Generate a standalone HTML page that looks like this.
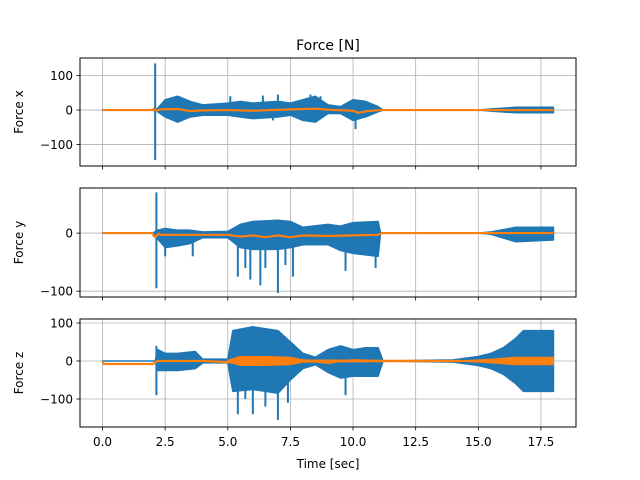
<!DOCTYPE html>
<html><head><meta charset="utf-8"><style>
body{margin:0;background:#fff;}
svg{display:block;font-family:"DejaVu Sans","Liberation Sans",sans-serif;}
</style></head><body>
<svg id="chart" width="640" height="480" viewBox="0 0 640 480">
<rect width="640" height="480" fill="#fff"/>
<text x="328" y="50" font-size="14" text-anchor="middle">Force [N]</text>
<text x="328" y="468" font-size="12" text-anchor="middle">Time [sec]</text>
</svg>
<script>
const xTicks=[0,2.5,5,7.5,10,12.5,15,17.5];
const xTickLabels=["0.0","2.5","5.0","7.5","10.0","12.5","15.0","17.5"];
// Force x envelope
const tX=[0,2.0,2.2,2.5,3.0,3.5,4.0,5.0,5.5,6.0,7.0,7.5,8.0,8.5,9.0,9.5,10.0,10.5,11.0,11.2,15,15.5,16.5,18];
const upX=[0,0,5,30,40,25,15,20,25,20,25,20,30,40,15,10,30,25,10,0,0,3,8,8];
const loX=[0,0,-5,-20,-35,-20,-15,-15,-20,-25,-20,-15,-30,-35,-10,-10,-30,-20,-5,0,0,-3,-8,-8];
const spikeTX=[2.1,2.1,5.1,6.4,7.0,8.3,8.7,10.1,6.8,3.2];
const spikeVX=[135,-145,40,42,45,45,40,-55,-30,-25];
const orTX=[0,2.0,2.05,2.15,2.3,3.0,3.5,4.0,5.0,6.0,7.5,8.5,9.0,10.0,10.2,10.6,11.1,18];
const orVX=[0,0,4,-2,2,3,-3,-1,0,-2,2,4,1,-2,-8,-3,0,0];
// Force y envelope
const tY=[0,2.0,2.2,2.5,3.0,3.5,4.0,5.0,5.5,6.0,7.0,7.5,8.0,9.0,9.5,10.0,11.0,11.1,15,15.5,16.5,18];
const upY=[0,0,5,8,5,5,2,3,15,20,22,20,10,15,12,18,20,0,0,2,10,10];
const loY=[0,0,-10,-25,-22,-18,-8,-8,-25,-28,-28,-25,-20,-20,-30,-35,-40,0,0,-2,-15,-12];
const spikeTY=[2.15,2.15,2.5,3.6,5.4,5.7,5.9,6.3,6.5,7.0,7.3,7.6,9.7,10.9];
const spikeVY=[70,-95,-40,-40,-75,-60,-80,-90,-60,-103,-55,-75,-65,-60];
const orTY=[0,2.0,2.05,2.15,2.25,2.35,5.0,5.5,6.0,6.5,7.0,7.5,8.0,9.0,10.0,11.0,11.15,18];
const orVY=[0,0,-6,-5,-1,-3,-3,-6,-4,-7,-4,-7,-4,-5,-4,-3,0,0];
// Force z envelope
const tZ=[0,2.1,2.2,2.5,3.0,3.7,4.0,5.0,5.2,6.0,7.0,7.5,8.0,8.5,9.0,9.5,10.0,10.5,11.0,11.2,14,15,15.5,16,16.5,16.8,18];
const upZ=[0,0,30,20,20,25,5,5,80,90,80,50,20,10,30,40,30,35,35,0,3,12,20,35,60,80,80];
const loZ=[0,0,-25,-25,-25,-20,-5,-5,-80,-75,-85,-50,-20,-10,-30,-45,-40,-40,-40,0,-3,-12,-20,-35,-60,-80,-80];
const spikeTZ=[2.15,2.15,5.4,5.7,6.0,6.5,7.0,7.4,9.7];
const spikeVZ=[40,-90,-140,-100,-140,-120,-155,-110,-90];
const orTZ=[0,0.05,2.0,2.2,4.0,5.0,5.5,6.0,6.5,7.0,7.5,8.0,9.0,9.5,10.0,11.0,15,18];
const orVZ=[0,-8,-8,0,0,-3,-5,3,-5,5,-3,2,-5,0,2,0,0,0];
const orBandTZ=[5.0,5.5,6.5,7.5,8.0,14.5,15.5,16.5,18];
const orBandZ=[2,12,12,10,3,1,5,10,10];

const NS="http://www.w3.org/2000/svg";
const svg=document.getElementById('chart');
const X0=80,X1=576,XMIN=-0.9,XMAX=18.9;
const xs=t=>X0+(t-XMIN)/(XMAX-XMIN)*(X1-X0);
function mk(tag,attrs,parent){const e=document.createElementNS(NS,tag);for(const k in attrs)e.setAttribute(k,attrs[k]);(parent||svg).appendChild(e);return e;}
const panels=[
 {top:58,bot:166,ymin:-162,ymax:150.7,ticks:[-100,0,100],label:"Force x",t:tX,up:upX,lo:loX,st:spikeTX,sv:spikeVX,ot:orTX,ov:orVX,name:"x"},
 {top:188,bot:297,ymin:-110,ymax:77.6,ticks:[-100,0],label:"Force y",t:tY,up:upY,lo:loY,st:spikeTY,sv:spikeVY,ot:orTY,ov:orVY,name:"y"},
 {top:319,bot:427,ymin:-173.7,ymax:110.5,ticks:[-100,0,100],label:"Force z",t:tZ,up:upZ,lo:loZ,st:spikeTZ,sv:spikeVZ,ot:orTZ,ov:orVZ,name:"z"}
];
panels.forEach((p,pi)=>{
 const ys=v=>p.bot-(v-p.ymin)/(p.ymax-p.ymin)*(p.bot-p.top);
 const g=mk('g',{});
 
 
 xTicks.forEach(t=>{const l=mk('line',{x1:xs(t),x2:xs(t),y1:p.top,y2:p.bot,stroke:'#b0b0b0','stroke-width':0.8},g);
  });
 p.ticks.forEach(v=>{const l=mk('line',{x1:X0,x2:X1,y1:ys(v),y2:ys(v),stroke:'#b0b0b0','stroke-width':0.8},g);
  });
 const cp=mk('clipPath',{id:'c'+pi},g);mk('rect',{x:X0,y:p.top,width:X1-X0,height:p.bot-p.top},cp);
 const dg=mk('g',{'clip-path':'url(#c'+pi+')'},g);
 let pts=p.t.map((t,i)=>xs(t)+','+ys(p.up[i]));
 for(let i=p.t.length-1;i>=0;i--)pts.push(xs(p.t[i])+','+ys(p.lo[i]));
 const env=mk('polygon',{points:pts.join(' '),fill:'#1f77b4',stroke:'#1f77b4','stroke-width':1.5,'stroke-linejoin':'round'},dg);
 
 p.st.forEach((t,i)=>{const l=mk('line',{x1:xs(t),x2:xs(t),y1:ys(0),y2:ys(p.sv[i]),stroke:'#1f77b4','stroke-width':2},dg);
  });
 if(p.name==='z'){
  let b=orBandTZ.map((t,i)=>xs(t)+','+ys(orBandZ[i]));
  for(let i=orBandTZ.length-1;i>=0;i--)b.push(xs(orBandTZ[i])+','+ys(-orBandZ[i]));
  const band=mk('polygon',{points:b.join(' '),fill:'#ff7f0e',stroke:'#ff7f0e','stroke-width':1},dg);
  
 }
 const ol=mk('polyline',{points:p.ot.map((t,i)=>xs(t)+','+ys(p.ov[i])).join(' '),fill:'none',stroke:'#ff7f0e','stroke-width':2.2,'stroke-linejoin':'round'},dg);
 
 const fr=mk('rect',{x:X0,y:p.top,width:X1-X0,height:p.bot-p.top,fill:'none',stroke:'#000','stroke-width':1},g);
 
 xTicks.forEach((t,i)=>{mk('line',{x1:xs(t),x2:xs(t),y1:p.bot,y2:p.bot+3.5,stroke:'#000','stroke-width':0.8},g);
  if(pi===2){const tx=mk('text',{x:xs(t),y:p.bot+19,'font-size':12,'text-anchor':'middle'},g);tx.textContent=xTickLabels[i];
   }});
 p.ticks.forEach(v=>{mk('line',{x1:X0-3.5,x2:X0,y1:ys(v),y2:ys(v),stroke:'#000','stroke-width':0.8},g);
  const tx=mk('text',{x:X0-7,y:ys(v)+4.5,'font-size':12,'text-anchor':'end'},g);tx.textContent=String(v).replace('-','\u2212');
  });
 const yl=mk('text',{x:0,y:0,'font-size':12,'text-anchor':'middle',transform:'translate(23,'+((p.top+p.bot)/2)+') rotate(-90)'},g);
 yl.textContent=p.label;
 
});
</script>
</body></html>
